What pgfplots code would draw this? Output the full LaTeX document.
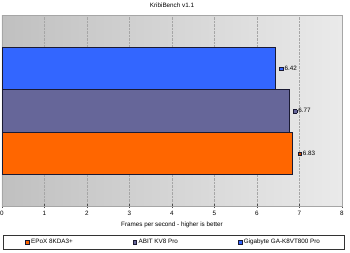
\documentclass[border=0pt]{standalone}
\usepackage{pgfplots}
\pgfplotsset{compat=1.18}
\usepackage{fontspec}
\setmainfont{Liberation Sans}
\definecolor{cblue}{HTML}{3366FF}
\definecolor{cpurple}{HTML}{666699}
\definecolor{corange}{HTML}{FF6600}
\definecolor{cedge}{HTML}{1A1A33}
\definecolor{bgl}{HTML}{C0C0C0}
\definecolor{bgr}{HTML}{EAEAEA}
\newcommand{\sq}[1]{{\fboxsep=0pt\fboxrule=0.5pt\fcolorbox{cedge}{#1}{\rule{0pt}{3pt}\hspace{3pt}}}}
\begin{document}
\begin{tikzpicture}
\path[use as bounding box] (-2pt,-46pt) rectangle (348pt,206pt);
\begin{axis}[
  scale only axis,
  width=340pt, height=191pt,
  xmin=0, xmax=8, ymin=-1.235, ymax=3.26,
  xtick={0,...,8}, ytick=\empty,
  xbar, bar width=1, bar shift=0pt,
  axis background/.style={shade, left color=bgl, right color=bgr},
  axis line style={draw=gray!70},
  x axis line style={draw=black!70},
  tick pos=bottom, tick align=center,
  major tick length=4pt,
  tick style={black!70, line width=0.5pt},
  xmajorgrids,
  major grid style={gray!70, densely dotted},
  font=\fontsize{6.3}{7.5}\selectfont,
  ticklabel style={font=\fontsize{6.3}{7.5}\selectfont},
  /pgf/number format/assume math mode=true,
  title={KribiBench v1.1},
  title style={yshift=-2pt},
  xlabel={Frames per second - higher is better},
  xlabel style={yshift=1pt},
  nodes near coords align={horizontal},
  legend columns=3,
  legend style={at={(0.003,-0.152)}, anchor=north west, draw=black!80,
    font=\fontsize{6.3}{7.5}\selectfont, inner xsep=22pt, inner ysep=2pt,
    /tikz/every even column/.append style={column sep=58pt}},
  legend image code/.code={\draw[#1, line width=0.4pt] (0pt,-1.8pt) rectangle (3.6pt,1.8pt);},
]
\addplot[fill=corange, draw=cedge, line width=0.6pt,
  nodes near coords={\sq{corange!80!black}\,\pgfmathprintnumber[fixed,precision=2]{\pgfplotspointmeta}},
  every node near coord/.append style={xshift=2pt, font=\fontsize{6.3}{7.5}\selectfont, text=black}]
  coordinates {(6.83,0)};
\addlegendentry{EPoX 8KDA3+}
\addplot[fill=cpurple, draw=cedge, line width=0.6pt,
  nodes near coords={\sq{cpurple}\,\pgfmathprintnumber[fixed,precision=2]{\pgfplotspointmeta}},
  every node near coord/.append style={xshift=0pt, font=\fontsize{6.3}{7.5}\selectfont, text=black}]
  coordinates {(6.77,1)};
\addlegendentry{ABIT KV8 Pro}
\addplot[fill=cblue, draw=cedge, line width=0.6pt,
  nodes near coords={\sq{cblue}\,\pgfmathprintnumber[fixed,precision=2]{\pgfplotspointmeta}},
  every node near coord/.append style={xshift=1pt, font=\fontsize{6.3}{7.5}\selectfont, text=black}]
  coordinates {(6.42,2)};
\addlegendentry{Gigabyte GA-K8VT800 Pro}
\end{axis}
\end{tikzpicture}
\end{document}
